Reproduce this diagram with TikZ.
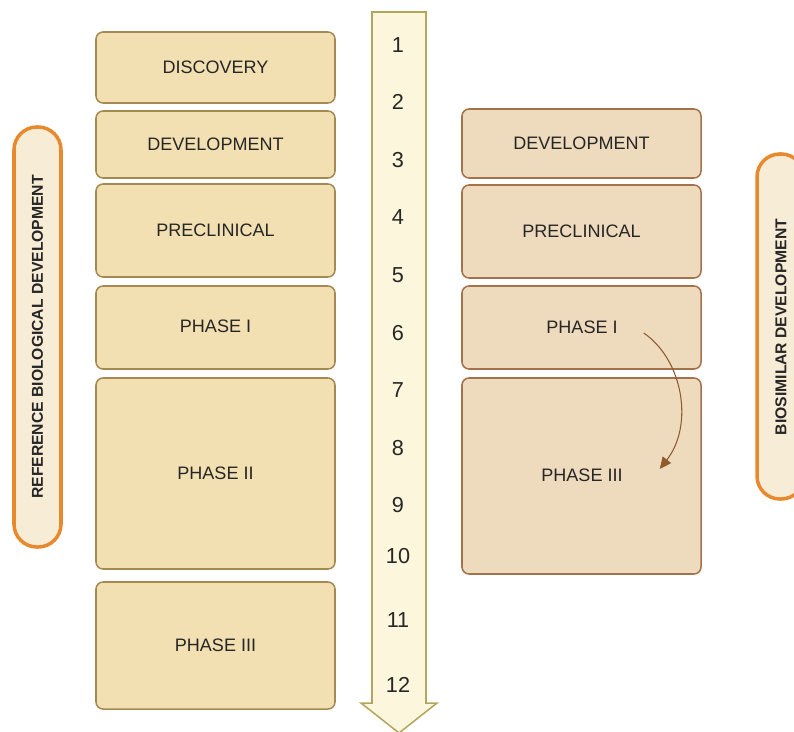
\documentclass[tikz,border=0pt]{standalone}
\usepackage{fontspec}
\setmainfont{Liberation Sans}
\usetikzlibrary{fit,calc,arrows.meta}
\definecolor{refFill}{HTML}{F2E0B2}
\definecolor{refLine}{HTML}{A48A52}
\definecolor{bioFill}{HTML}{EEDABC}
\definecolor{bioLine}{HTML}{A3714A}
\definecolor{tlFill}{HTML}{FBF6DC}
\definecolor{tlLine}{HTML}{B3A55E}
\definecolor{pillLine}{HTML}{E8892E}
\definecolor{pillFill}{HTML}{F7ECD6}
\definecolor{curveCol}{HTML}{8E5A2E}
\tikzset{
  boxtext/.style={font=\fontsize{15.4}{18}\selectfont, text=black!85},
  stagebox/.style={draw=refLine, fill=refFill, line width=1.3pt, rounded corners=6pt,
    inner sep=0pt},
  biobox/.style={stagebox, draw=bioLine, fill=bioFill},
  pill/.style={draw=pillLine, fill=pillFill, line width=3pt, rounded corners=19.5pt, inner sep=0pt},
  pilltext/.style={rotate=90, font=\bfseries\fontsize{13.4}{16}\selectfont, text=black!85},
  yearnum/.style={font=\fontsize{18.5}{22}\selectfont, text=black!85},
}
\begin{document}
\begin{tikzpicture}[x=0.03cm, y=-0.03cm]
\useasboundingbox (0,0) rectangle (794,731);

% timeline arrow
\draw[draw=tlLine, fill=tlFill, line width=1.3pt, line join=miter]
  (372,12) -- (426,12) -- (426,703) -- (437,703) -- (399,733) -- (361,703) -- (372,703) -- cycle;
\foreach \n/\yy in {1/45,2/102,3/160,4/217,5/275,6/333,7/390,8/448,9/505,10/556,11/620,12/685}
  \node[yearnum] (t\n) at (398,\yy) {\n};

% reference biological development
\node[stagebox, fit={(96,32)(335,103)}]   (rdisc) {};
\node[stagebox, fit={(96,111)(335,178)}]  (rdev)  {};
\node[stagebox, fit={(96,184)(335,277)}]  (rpre)  {};
\node[stagebox, fit={(96,286)(335,369)}]  (rp1)   {};
\node[stagebox, fit={(96,378)(335,569)}]  (rp2)   {};
\node[stagebox, fit={(96,582)(335,709)}]  (rp3)   {};
\node[boxtext] (rdisct) at (rdisc.center) {DISCOVERY};
\node[boxtext] (rdevt)  at (rdev.center)  {DEVELOPMENT};
\node[boxtext] (rpret)  at (rpre.center)  {PRECLINICAL};
\node[boxtext] (rp1t)   at ($(rp1.center)+(0,-1)$) {PHASE I};
\node[boxtext] (rp2t)   at (rp2.center)   {PHASE II};
\node[boxtext] (rp3t)   at (rp3.center)   {PHASE III};

% biosimilar development
\node[biobox, fit={(462,109)(701,178)}]  (bdev) {};
\node[biobox, fit={(462,185)(701,278)}]  (bpre) {};
\node[biobox, fit={(462,286)(701,369)}]  (bp1)  {};
\node[biobox, fit={(462,378)(701,574)}]  (bp3)  {};
\node[boxtext] (bdevt) at (bdev.center) {DEVELOPMENT};
\node[boxtext] (bpret) at (bpre.center) {PRECLINICAL};
\node[boxtext] (bp1t)  at (582,327) {PHASE I};
\node[boxtext] (bp3t)  at (582,475) {PHASE III};

% side labels
\node[pill, fit={(14,127)(61,547)}] (lpill) {};
\node[pilltext] (ltext) at (lpill.center) {REFERENCE BIOLOGICAL DEVELOPMENT};
\node[pill, fit={(757,154)(804,499)}] (rpill) {};
\node[pilltext] (rtext) at (781,327) {BIOSIMILAR DEVELOPMENT};

% phase I leads straight into phase III
\coordinate (cstart) at ($(bp1t.east)+(22,6)$);
\coordinate (cend) at ($(bp3t.east)+(33,-6)$);
\draw[curveCol, line width=0.9pt, -{Triangle[length=10pt,width=9pt]}]
  (cstart) .. controls (683,360) and (694,425) .. (cend);
\end{tikzpicture}
\end{document}
